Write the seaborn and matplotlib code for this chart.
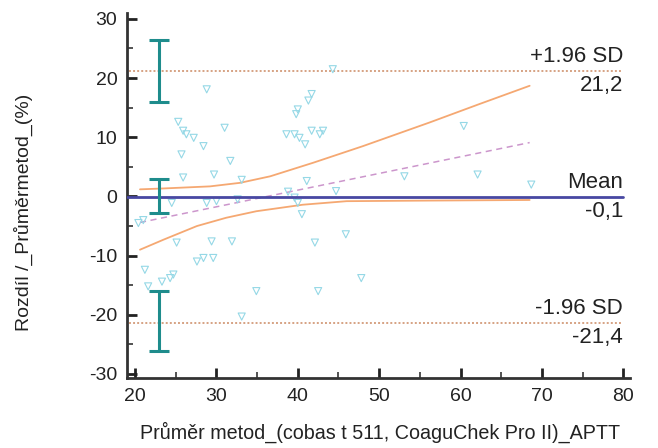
import matplotlib
matplotlib.use("Agg")
import matplotlib.pyplot as plt
from matplotlib.ticker import MultipleLocator
import numpy as np
import pandas as pd
import seaborn as sns

# Bland-Altman data: mean of the two methods vs. relative difference (%)
mean_methods = [20.4, 21.0, 21.2, 21.6, 23.3, 24.3, 24.7, 24.5, 25.1, 25.3,
                25.9, 26.3, 27.2, 25.7, 25.9, 27.6, 28.4, 29.6, 28.4, 28.8,
                28.8, 30.0, 29.4, 29.7, 31.0, 31.7, 31.9, 33.1, 32.6, 33.1,
                34.9, 38.6, 39.6, 40.2, 40.9, 41.7, 42.7, 43.1, 41.7, 41.3,
                40.0, 39.8, 44.3, 41.1, 38.8, 44.7, 39.6, 40.0, 40.5, 42.1,
                45.9, 47.8, 42.5, 53.1, 60.4, 62.1, 68.7]
rel_diff = [-4.5, -4.0, -12.4, -15.2, -14.4, -13.8, -13.2, -1.1, -7.8, 12.6,
            11.1, 10.5, 9.9, 7.1, 3.2, -11.0, -10.4, -10.4, 8.5, 18.1,
            -1.1, -0.8, -7.6, 3.7, 11.6, 6.0, -7.6, 2.8, -0.5, -20.3,
            -16.0, 10.5, 10.5, 9.9, 8.8, 11.1, 10.5, 11.1, 17.3, 16.2,
            14.7, 13.9, 21.5, 2.6, 0.8, 0.9, -0.2, -1.1, -3.0, -7.8,
            -6.4, -13.8, -16.0, 3.4, 11.9, 3.7, 2.0]

# Agreement limits and their 95% confidence intervals
limit_values = [21.2, -0.1, -21.4]
limit_names = ["+1.96 SD", "Mean", "-1.96 SD"]
limit_texts = ["21,2", "-0,1", "-21,4"]
ci_low = [16.0, -2.8, -26.2]
ci_high = [26.4, 3.0, -15.9]
ci_x = 22.9

# Regression of differences on means, with its 95% confidence band
reg_x = [20.6, 68.5]
reg_y = [-4.4, 9.1]
band_up_x = [20.6, 23.5, 29.2, 32.9, 36.6, 41.9, 48.0, 56.2, 62.3, 68.5]
band_up_y = [1.2, 1.35, 1.7, 2.3, 3.4, 5.7, 8.5, 12.5, 15.6, 18.7]
band_lo_x = [20.6, 23.5, 27.6, 31.2, 34.9, 40.6, 46.0, 56.2, 68.5]
band_lo_y = [-9.0, -7.3, -5.0, -3.6, -2.5, -1.4, -0.8, -0.7, -0.6]

x_ticks = [20, 30, 40, 50, 60, 70, 80]
y_ticks = [-30, -20, -10, 0, 10, 20, 30]

sns.set_theme(style="ticks")
plt.rcParams["font.family"] = ["Liberation Sans", "DejaVu Sans"]
plt.rcParams["axes.unicode_minus"] = False

fig = plt.figure(figsize=(6.58, 4.48), dpi=100)
ax = fig.add_axes([0.193, 0.156, 0.764, 0.815])

points = pd.DataFrame({"m": mean_methods, "d": rel_diff})
sns.scatterplot(data=points, x="m", y="d", marker="v", s=26,
                facecolor="none", edgecolor="#95d8e6", linewidth=0.8,
                ax=ax, zorder=3)

# Limits of agreement
ax.plot([19.0, 80.0], [limit_values[1]] * 2, color="#4848a2", lw=2.0,
        zorder=4)
for v in (limit_values[0], limit_values[2]):
    ax.plot([19.3, 80.0], [v, v], color="#d6a283", lw=1.4,
            linestyle=(0, (1.0, 1.1)), zorder=2)

# Regression line and confidence band
reg = pd.DataFrame({"x": reg_x, "y": reg_y})
sns.lineplot(data=reg, x="x", y="y", color="#cc96cc", lw=1.1,
             linestyle=(0, (4, 3)), ax=ax, zorder=2)
up = pd.DataFrame({"x": band_up_x, "y": band_up_y})
lo = pd.DataFrame({"x": band_lo_x, "y": band_lo_y})
sns.lineplot(data=up, x="x", y="y", color="#f5a872", lw=1.3, ax=ax,
             zorder=2, sort=False)
sns.lineplot(data=lo, x="x", y="y", color="#f5a872", lw=1.3, ax=ax,
             zorder=2, sort=False)

# Confidence intervals of the limits
for v, lo_v, hi_v in zip(limit_values, ci_low, ci_high):
    ax.errorbar([ci_x], [v], yerr=[[v - lo_v], [hi_v - v]], fmt="none",
                ecolor="#1e8c8c", elinewidth=2.2, capsize=7, capthick=2.2,
                zorder=5)

# Labels on the right-hand end of each limit line
for v, name, txt in zip(limit_values, limit_names, limit_texts):
    ax.annotate(name, (80.0, v), xytext=(0, 3), textcoords="offset points",
                ha="right", va="bottom", fontsize=16, color="#222222")
    ax.annotate(txt, (80.0, v), xytext=(0, -3), textcoords="offset points",
                ha="right", va="top", fontsize=16, color="#222222")

ax.set_xlim(19.0, 80.8)
ax.set_ylim(-30.7, 31.0)
ax.set_xticks(x_ticks)
ax.set_yticks(y_ticks)
ax.xaxis.set_minor_locator(MultipleLocator(5))
ax.yaxis.set_minor_locator(MultipleLocator(5))
ax.tick_params(which="major", direction="in", length=7, width=2.0,
               color="#222222", labelsize=14, labelcolor="#222222", pad=7)
ax.tick_params(which="minor", direction="in", length=4, width=1.3,
               color="#444444")
ax.tick_params(axis="x", which="both", bottom=True, top=False)
ax.tick_params(axis="y", which="both", left=True, right=False)

for side in ("top", "right"):
    ax.spines[side].set_visible(False)
for side in ("left", "bottom"):
    ax.spines[side].set_linewidth(2.0)
    ax.spines[side].set_color("#333333")

ax.set_xlabel("Průměr metod_(cobas t 511, CoaguChek Pro II)_APTT",
              fontsize=14.2, color="#222222")
ax.set_ylabel("Rozdíl /_Průměrmetod_(%)", fontsize=14, color="#222222")
ax.xaxis.set_label_coords(0.503, -0.118)
ax.yaxis.set_label_coords(-0.187, 0.455)

fig.savefig("out.png", dpi=100)
